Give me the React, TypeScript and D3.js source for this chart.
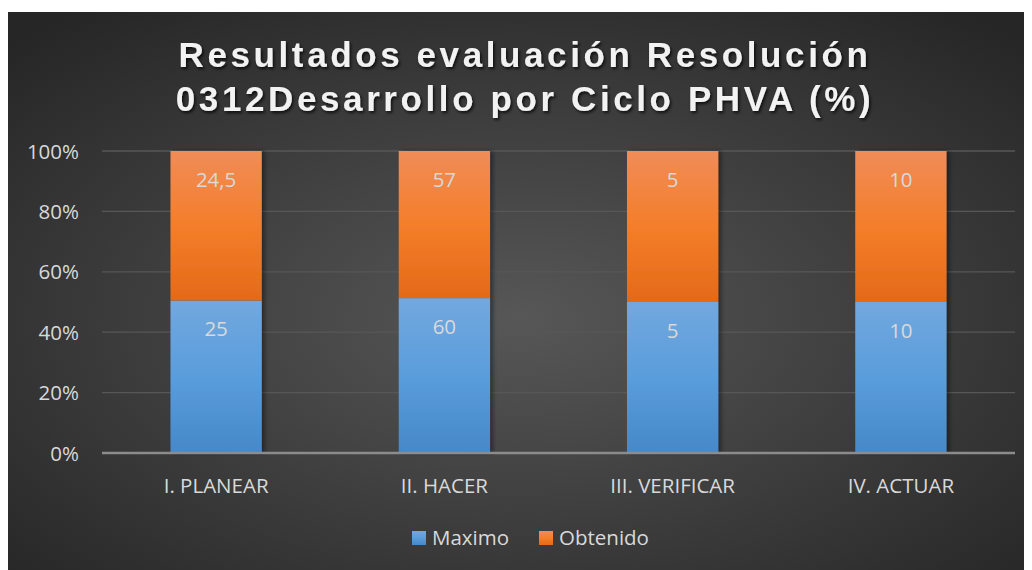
import React, { useEffect, useRef } from 'react';
import * as d3 from 'd3';

const categories = ['I. PLANEAR', 'II. HACER', 'III. VERIFICAR', 'IV. ACTUAR'];
const maximo = [25, 60, 5, 10];
const obtenido = [24.5, 57, 5, 10];
const obtenidoLabels = ['24,5', '57', '5', '10'];
const maximoLabels = ['25', '60', '5', '10'];
const yTicks = [0, 0.2, 0.4, 0.6, 0.8, 1];
const titleLines = ['Resultados evaluación Resolución', '0312Desarrollo por Ciclo PHVA (%)'];

const App: React.FC = () => {
  const ref = useRef<SVGSVGElement>(null);

  useEffect(() => {
    const svg = d3.select(ref.current);
    svg.selectAll('*').remove();
    const W = 1024;
    const H = 558;
    // chart coordinates are relative to svg (offset 8,12 on page)
    const left = 94, right = 1007, top = 139, bottom = 441;

    const defs = svg.append('defs');
    const bg = defs.append('radialGradient').attr('id', 'bg')
      .attr('cx', '0.5').attr('cy', '0.55').attr('r', '0.7');
    bg.append('stop').attr('offset', '0').attr('stop-color', '#575757');
    bg.append('stop').attr('offset', '1').attr('stop-color', '#262626');

    const blue = defs.append('linearGradient').attr('id', 'blue').attr('x1', 0).attr('y1', 0).attr('x2', 0).attr('y2', 1);
    blue.append('stop').attr('offset', '0').attr('stop-color', '#72a8de');
    blue.append('stop').attr('offset', '0.5').attr('stop-color', '#5a9ddc');
    blue.append('stop').attr('offset', '1').attr('stop-color', '#4688c8');

    const orange = defs.append('linearGradient').attr('id', 'orange').attr('x1', 0).attr('y1', 0).attr('x2', 0).attr('y2', 1);
    orange.append('stop').attr('offset', '0').attr('stop-color', '#f08c58');
    orange.append('stop').attr('offset', '0.5').attr('stop-color', '#f47e2a');
    orange.append('stop').attr('offset', '1').attr('stop-color', '#e46a18');

    const shadow = defs.append('filter').attr('id', 'ts').attr('x', '-10%').attr('y', '-30%').attr('width', '120%').attr('height', '160%');
    shadow.append('feDropShadow').attr('dx', 1.5).attr('dy', 2).attr('stdDeviation', 1.5)
      .attr('flood-color', '#000').attr('flood-opacity', 0.75);

    const barShadow = defs.append('filter').attr('id', 'bs').attr('x', '-20%').attr('y', '-5%').attr('width', '140%').attr('height', '110%');
    barShadow.append('feDropShadow').attr('dx', 3).attr('dy', 0).attr('stdDeviation', 2)
      .attr('flood-color', '#000').attr('flood-opacity', 0.4);

    svg.append('rect').attr('width', W).attr('height', H).attr('fill', 'url(#bg)');

    svg.append('g').selectAll('text').data(titleLines).enter().append('text')
      .attr('x', 517).attr('y', (d, i) => 55 + i * 44)
      .attr('text-anchor', 'middle')
      .attr('font-family', 'Liberation Sans, Arial, sans-serif')
      .attr('font-weight', 'bold').attr('font-size', 35)
      .attr('letter-spacing', 3.6)
      .attr('fill', '#f2f2f2').attr('filter', 'url(#ts)')
      .text(d => d);

    const x = d3.scaleBand<string>().domain(categories).range([left, right]).paddingInner(0.6).paddingOuter(0.3);
    const y = d3.scaleLinear().domain([0, 1]).range([bottom, top]);

    const font = 'Open Sans, sans-serif';
    const fs = 20.5;

    svg.append('g').selectAll('line').data(yTicks.slice(1)).enter().append('line')
      .attr('x1', left).attr('x2', right).attr('y1', d => y(d)).attr('y2', d => y(d))
      .attr('stroke', '#575757').attr('stroke-width', 1.3);

    svg.append('g').selectAll('text').data(yTicks).enter().append('text')
      .attr('x', 71).attr('y', d => y(d) + 7.5)
      .attr('text-anchor', 'end').attr('font-family', font).attr('font-size', fs)
      .attr('fill', '#d9d9d9').text(d => d3.format('.0%')(d));

    const data = categories.map((c, i) => {
      const total = maximo[i] + obtenido[i];
      return { c, m: maximo[i] / total, ml: maximoLabels[i], ol: obtenidoLabels[i] };
    });

    const bars = svg.append('g').selectAll('g').data(data).enter().append('g').attr('filter', 'url(#bs)');
    bars.append('rect')
      .attr('x', d => x(d.c) ?? 0).attr('width', x.bandwidth())
      .attr('y', d => y(d.m)).attr('height', d => y(0) - y(d.m))
      .attr('fill', 'url(#blue)');
    bars.append('rect')
      .attr('x', d => x(d.c) ?? 0).attr('width', x.bandwidth())
      .attr('y', y(1)).attr('height', d => y(d.m) - y(1))
      .attr('fill', 'url(#orange)');

    const labels = svg.append('g').selectAll('g').data(data).enter().append('g');
    labels.append('text')
      .attr('x', d => (x(d.c) ?? 0) + x.bandwidth() / 2).attr('y', d => y(d.m) + 36)
      .attr('text-anchor', 'middle').attr('font-family', font).attr('font-size', fs)
      .attr('fill', '#d9d9d9').text(d => d.ml);
    labels.append('text')
      .attr('x', d => (x(d.c) ?? 0) + x.bandwidth() / 2).attr('y', y(1) + 36)
      .attr('text-anchor', 'middle').attr('font-family', font).attr('font-size', fs)
      .attr('fill', '#d9d9d9').text(d => d.ol);

    svg.append('line').attr('x1', left).attr('x2', right).attr('y1', bottom).attr('y2', bottom)
      .attr('stroke', '#8c8c8c').attr('stroke-width', 2.5);

    svg.append('g').selectAll('text').data(categories).enter().append('text')
      .attr('x', d => (x(d) ?? 0) + x.bandwidth() / 2).attr('y', 481)
      .attr('text-anchor', 'middle').attr('font-family', font).attr('font-size', fs)
      .attr('fill', '#d9d9d9').text(d => d);

    const legend = [
      { name: 'Maximo', fill: 'url(#blue)', x: 404 },
      { name: 'Obtenido', fill: 'url(#orange)', x: 531 },
    ];
    const lg = svg.append('g').selectAll('g').data(legend).enter().append('g')
      .attr('transform', d => `translate(${d.x},519)`);
    lg.append('rect').attr('width', 14).attr('height', 14).attr('fill', d => d.fill);
    lg.append('text').attr('x', 20).attr('y', 14)
      .attr('font-family', font).attr('font-size', fs).attr('fill', '#d9d9d9').text(d => d.name);
  }, []);

  return <svg ref={ref} width={1024} height={558} style={{ display: 'block', marginTop: 4 }} />;
};

export default App;
